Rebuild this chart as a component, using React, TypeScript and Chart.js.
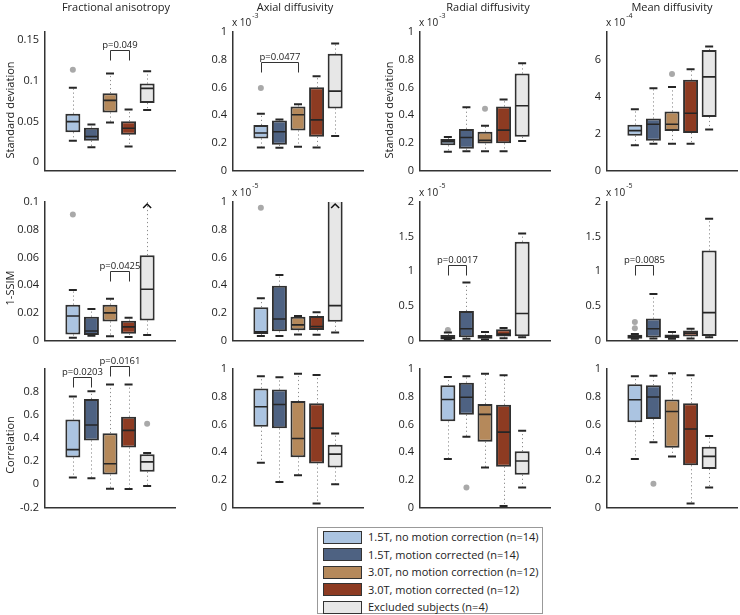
import React, { useEffect, useRef } from 'react';
import { Chart, registerables } from 'chart.js';
Chart.register(...registerables);

const FONT = '"Open Sans", "DejaVu Sans", sans-serif';

// ---------- categories / series ----------
const GROUPS = [
  '1.5T, no motion correction (n=14)',
  '1.5T, motion corrected (n=14)',
  '3.0T, no motion correction (n=12)',
  '3.0T, motion corrected (n=12)',
  'Excluded subjects (n=4)',
];
const COLORS = ['#abc4e1', '#4e6282', '#b5895b', '#8d3b22', '#e7e7e7'];
const METRICS = ['Fractional anisotropy', 'Axial diffusivity', 'Radial diffusivity', 'Mean diffusivity'];
const MEASURES = ['Standard deviation', '1-SSIM', 'Correlation'];

// each box: [lower whisker, q1, median, q3, upper whisker]
// ---- Row 1: standard deviation ----
const STD_FA = [
  [0.0265, 0.037, 0.0499, 0.0596, 0.0915],
  [0.0183, 0.0265, 0.0316, 0.0425, 0.0464],
  [0.0487, 0.0612, 0.076, 0.0849, 0.109],
  [0.0195, 0.0339, 0.0417, 0.0503, 0.0647],
  [0.0643, 0.0728, 0.0908, 0.0966, 0.1118],
];
const STD_FA_OUT = [[0.1137], [], [], [], []];
const STD_AD = [
  [0.166, 0.231, 0.27, 0.328, 0.409],
  [0.164, 0.185, 0.279, 0.36, 0.367],
  [0.171, 0.289, 0.402, 0.462, 0.478],
  [0.166, 0.2425, 0.365, 0.6, 0.681],
  [0.249, 0.448, 0.573, 0.843, 0.917],
];
const STD_AD_OUT = [[0.596], [], [], [], []];
const STD_RD = [
  [0.134, 0.182, 0.208, 0.226, 0.242],
  [0.139, 0.157, 0.238, 0.3, 0.457],
  [0.139, 0.194, 0.217, 0.279, 0.323],
  [0.139, 0.196, 0.291, 0.462, 0.513],
  [0.212, 0.2425, 0.467, 0.7, 0.774],
];
const STD_RD_OUT = [[], [], [0.446], [], []];
const STD_MD = [
  [1.36, 1.88, 2.155, 2.48, 3.31],
  [1.45, 1.6, 2.5, 2.81, 4.45],
  [1.45, 2.14, 2.5, 3.19, 4.52],
  [1.45, 2.03, 3.1, 4.91, 5.48],
  [2.21, 2.9, 5.07, 6.52, 6.72],
];
const STD_MD_OUT = [[], [], [5.22], [], []];

// ---- Row 2: 1-SSIM ----
const SSIM_FA = [
  [0.002, 0.0043, 0.0176, 0.0258, 0.0365],
  [0.0034, 0.0039, 0.0068, 0.0171, 0.0226],
  [0.003, 0.0137, 0.0199, 0.0258, 0.0301],
  [0.0025, 0.0048, 0.0098, 0.0142, 0.0164],
  [0.0039, 0.0144, 0.037, 0.0616, 0.125],
];
const SSIM_FA_OUT = [[0.0909], [], [], [], []];
const SSIM_AD = [
  [0.032, 0.046, 0.062, 0.24, 0.304],
  [0.032, 0.066, 0.155, 0.395, 0.473],
  [0.043, 0.073, 0.112, 0.171, 0.176],
  [0.041, 0.075, 0.1, 0.176, 0.203],
  [0.057, 0.135, 0.251, 1.3, 1.9],
];
const SSIM_AD_OUT = [[0.959], [], [], [], []];
const SSIM_RD = [
  [0.014, 0.014, 0.037, 0.078, 0.114],
  [0.023, 0.046, 0.169, 0.425, 0.836],
  [0.014, 0.023, 0.046, 0.078, 0.123],
  [0.032, 0.055, 0.09, 0.16, 0.178],
  [0.046, 0.059, 0.388, 1.425, 1.543],
];
const SSIM_RD_OUT = [[0.15], [], [], [], []];
const SSIM_MD = [
  [0.023, 0.023, 0.055, 0.082, 0.091],
  [0.027, 0.041, 0.169, 0.315, 0.671],
  [0.023, 0.032, 0.059, 0.087, 0.123],
  [0.027, 0.055, 0.105, 0.142, 0.169],
  [0.046, 0.064, 0.402, 1.3, 1.758],
];
const SSIM_MD_OUT = [[0.174, 0.265], [], [], [], []];

// ---- Row 3: correlation ----
const COR_FA = [
  [0.06, 0.233, 0.301, 0.562, 0.762],
  [0.052, 0.381, 0.515, 0.74, 0.808],
  [-0.038, 0.085, 0.178, 0.444, 0.866],
  [-0.041, 0.32, 0.468, 0.586, 0.866],
  [-0.014, 0.11, 0.195, 0.26, 0.271],
];
const COR_FA_OUT = [[], [], [], [], [0.526]];
const COR_AD = [
  [0.323, 0.583, 0.727, 0.86, 0.947],
  [0.183, 0.571, 0.743, 0.851, 0.94],
  [0.232, 0.362, 0.498, 0.768, 0.966],
  [0.028, 0.317, 0.573, 0.752, 0.956],
  [0.167, 0.289, 0.385, 0.452, 0.534],
];
const COR_AD_OUT = [[], [], [], [], []];
const COR_RD = [
  [0.349, 0.622, 0.78, 0.883, 0.943],
  [0.511, 0.67, 0.796, 0.901, 0.947],
  [0.289, 0.475, 0.672, 0.748, 0.966],
  [0.011, 0.294, 0.544, 0.741, 0.954],
  [0.144, 0.236, 0.335, 0.406, 0.553],
];
const COR_RD_OUT = [[], [0.144], [], [], []];
const COR_MD = [
  [0.349, 0.615, 0.778, 0.89, 0.947],
  [0.47, 0.638, 0.798, 0.883, 0.952],
  [0.367, 0.431, 0.693, 0.78, 0.97],
  [0.028, 0.305, 0.567, 0.752, 0.954],
  [0.144, 0.278, 0.369, 0.438, 0.516],
];
const COR_MD_OUT = [[], [0.17], [], [], []];

// ---------- tick labels / axis ranges ----------
const TICKS_STD_FA = [0, 0.05, 0.1, 0.15];
const TICKS_UNIT = [0, 0.2, 0.4, 0.6, 0.8, 1];
const TICKS_STD_MD = [0, 2, 4, 6];
const TICKS_SSIM_FA = [0, 0.02, 0.04, 0.06, 0.08, 0.1];
const TICKS_SSIM_2 = [0, 0.5, 1, 1.5, 2];
const TICKS_COR_FA = [-0.2, 0, 0.2, 0.4, 0.6, 0.8];

// ---------- significance brackets: [fromGroup, toGroup, value, label] ----------
const P_STD_FA: [number, number, number, string][] = [[3, 4, 0.1383, 'p=0.049']];
const P_STD_AD: [number, number, number, string][] = [[1, 3, 0.78, 'p=0.0477']];
const P_SSIM_FA: [number, number, number, string][] = [[3, 4, 0.0503, 'p=0.0425']];
const P_SSIM_RD: [number, number, number, string][] = [[1, 2, 1.096, 'p=0.0017']];
const P_SSIM_MD: [number, number, number, string][] = [[1, 2, 1.096, 'p=0.0085']];
const P_COR_FA: [number, number, number, string][] = [
  [1, 2, 0.93, 'p=0.0203'],
  [3, 4, 1.03, 'p=0.0161'],
];

// ---------- layout ----------
const AXIS_X = [45, 233, 420, 607];
const AXIS_W = 130;
const ROW_TOP = [32, 202, 369];
const ROW_H = 145;
const PAD_TOP = [32, 22, 16];
const YW = [45, 40, 41, 40];
const TITLE_X = [116, 295, 488, 672];
const YTITLE_X = [11, 0, 390, 0];
const YTITLE_Y = [110, 288, 445];

type Panel = {
  r: number; c: number;
  boxes: number[][]; outliers: number[][];
  min: number; max: number; ticks: number[];
  mult?: string; yTitle?: string; title?: string;
  brackets: [number, number, number, string][];
};

const PANELS: Panel[] = [
  { r: 0, c: 0, boxes: STD_FA, outliers: STD_FA_OUT, min: -0.01, max: 0.16, ticks: TICKS_STD_FA, yTitle: MEASURES[0], title: METRICS[0], brackets: P_STD_FA },
  { r: 0, c: 1, boxes: STD_AD, outliers: STD_AD_OUT, min: 0, max: 1, ticks: TICKS_UNIT, mult: '-3', title: METRICS[1], brackets: P_STD_AD },
  { r: 0, c: 2, boxes: STD_RD, outliers: STD_RD_OUT, min: 0, max: 1, ticks: TICKS_UNIT, mult: '-3', yTitle: MEASURES[0], title: METRICS[2], brackets: [] },
  { r: 0, c: 3, boxes: STD_MD, outliers: STD_MD_OUT, min: 0, max: 7.5, ticks: TICKS_STD_MD, mult: '-4', title: METRICS[3], brackets: [] },
  { r: 1, c: 0, boxes: SSIM_FA, outliers: SSIM_FA_OUT, min: 0, max: 0.1, ticks: TICKS_SSIM_FA, yTitle: MEASURES[1], brackets: P_SSIM_FA },
  { r: 1, c: 1, boxes: SSIM_AD, outliers: SSIM_AD_OUT, min: 0, max: 1, ticks: TICKS_UNIT, mult: '-5', brackets: [] },
  { r: 1, c: 2, boxes: SSIM_RD, outliers: SSIM_RD_OUT, min: 0, max: 2, ticks: TICKS_SSIM_2, mult: '-5', brackets: P_SSIM_RD },
  { r: 1, c: 3, boxes: SSIM_MD, outliers: SSIM_MD_OUT, min: 0, max: 2, ticks: TICKS_SSIM_2, mult: '-5', brackets: P_SSIM_MD },
  { r: 2, c: 0, boxes: COR_FA, outliers: COR_FA_OUT, min: -0.2, max: 1, ticks: TICKS_COR_FA, yTitle: MEASURES[2], brackets: P_COR_FA },
  { r: 2, c: 1, boxes: COR_AD, outliers: COR_AD_OUT, min: 0, max: 1, ticks: TICKS_UNIT, brackets: [] },
  { r: 2, c: 2, boxes: COR_RD, outliers: COR_RD_OUT, min: 0, max: 1, ticks: TICKS_UNIT, brackets: [] },
  { r: 2, c: 3, boxes: COR_MD, outliers: COR_MD_OUT, min: 0, max: 1, ticks: TICKS_UNIT, brackets: [] },
];

const BOX_W = 15;
const INK = '#262626';

function makeDecor(p: Panel, canvasLeft: number, canvasTop: number) {
  return {
    id: 'boxDecor' + p.r + p.c,
    beforeDatasetsDraw(chart: any) {
      const { ctx, chartArea: a, scales } = chart;
      const x = scales.x, y = scales.y;
      ctx.save();
      ctx.beginPath();
      ctx.rect(a.left, a.top, a.right - a.left, a.bottom - a.top);
      ctx.clip();
      ctx.strokeStyle = '#8c8c8c';
      ctx.lineWidth = 1;
      ctx.setLineDash([1.2, 2.8]);
      p.boxes.forEach((b, i) => {
        const px = Math.round(x.getPixelForValue(i + 1)) + 0.5;
        ctx.beginPath();
        ctx.moveTo(px, y.getPixelForValue(b[3]));
        ctx.lineTo(px, y.getPixelForValue(b[4]));
        ctx.moveTo(px, y.getPixelForValue(b[1]));
        ctx.lineTo(px, y.getPixelForValue(b[0]));
        ctx.stroke();
      });
      ctx.restore();
    },
    afterDatasetsDraw(chart: any) {
      const { ctx, chartArea: a, scales } = chart;
      const x = scales.x, y = scales.y;
      ctx.save();
      ctx.beginPath();
      ctx.rect(a.left, a.top - 1, a.right - a.left, a.bottom - a.top + 2);
      ctx.clip();
      p.boxes.forEach((b, i) => {
        const cx = x.getPixelForValue(i + 1);
        // median
        ctx.strokeStyle = INK;
        ctx.lineWidth = 1.6;
        ctx.beginPath();
        const my = y.getPixelForValue(b[2]);
        ctx.moveTo(cx - BOX_W / 2 + 1, my);
        ctx.lineTo(cx + BOX_W / 2 - 1, my);
        ctx.stroke();
        // caps
        ctx.lineWidth = 2;
        [b[0], b[4]].forEach((v) => {
          if (v <= p.max && v >= p.min) {
            const vy = y.getPixelForValue(v);
            ctx.beginPath();
            ctx.moveTo(cx - 4, vy);
            ctx.lineTo(cx + 4, vy);
            ctx.stroke();
          }
        });
        // out of range marker
        if (b[4] > p.max) {
          ctx.lineWidth = 1.5;
          ctx.strokeStyle = '#111';
          ctx.beginPath();
          ctx.moveTo(cx - 4, a.top + 6);
          ctx.lineTo(cx, a.top + 2);
          ctx.lineTo(cx + 4, a.top + 6);
          ctx.stroke();
        }
      });
      ctx.restore();
    },
    afterDraw(chart: any) {
      const { ctx, chartArea: a, scales } = chart;
      const x = scales.x, y = scales.y;
      ctx.save();
      // brackets
      p.brackets.forEach(([g1, g2, v, label]) => {
        const x1 = Math.round(x.getPixelForValue(g1)) + 0.5;
        const x2 = Math.round(x.getPixelForValue(g2)) + 0.5;
        const yy = Math.round(y.getPixelForValue(v)) + 0.5;
        ctx.strokeStyle = '#333';
        ctx.lineWidth = 1;
        ctx.beginPath();
        ctx.moveTo(x1, yy + 10);
        ctx.lineTo(x1, yy);
        ctx.lineTo(x2, yy);
        ctx.lineTo(x2, yy + 10);
        ctx.stroke();
        ctx.fillStyle = '#222';
        ctx.font = '9.5px ' + FONT;
        ctx.textAlign = 'center';
        ctx.textBaseline = 'alphabetic';
        ctx.fillText(label, (x1 + x2) / 2, yy - 3);
      });
      // multiplier
      if (p.mult) {
        ctx.fillStyle = '#222';
        ctx.textAlign = 'left';
        ctx.textBaseline = 'alphabetic';
        ctx.font = '10px ' + FONT;
        const base = 'x 10';
        ctx.fillText(base, a.left - 1, a.top - 6);
        const w = ctx.measureText(base).width;
        ctx.font = '7px ' + FONT;
        ctx.fillText(p.mult, a.left + w, a.top - 14);
      }
      // column title
      if (p.title) {
        ctx.fillStyle = '#222';
        ctx.font = '11px ' + FONT;
        ctx.textAlign = 'center';
        ctx.textBaseline = 'alphabetic';
        ctx.fillText(p.title, TITLE_X[p.c] - canvasLeft, 11 - canvasTop);
      }
      // y title
      if (p.yTitle) {
        ctx.fillStyle = '#222';
        ctx.font = '11px ' + FONT;
        ctx.textAlign = 'center';
        ctx.textBaseline = 'middle';
        ctx.translate(YTITLE_X[p.c] - canvasLeft, YTITLE_Y[p.r] - canvasTop);
        ctx.rotate(-Math.PI / 2);
        ctx.fillText(p.yTitle, 0, 0);
      }
      ctx.restore();
    },
  };
}

function BoxPanel({ p }: { p: Panel }) {
  const ref = useRef<HTMLCanvasElement>(null);
  const padTop = PAD_TOP[p.r];
  const yw = YW[p.c];
  const left = AXIS_X[p.c] - yw;
  const top = ROW_TOP[p.r] - padTop;
  const width = yw + AXIS_W + 6;
  const height = padTop + ROW_H + 6;

  useEffect(() => {
    const outlierPts: { x: number; y: number }[] = [];
    p.outliers.forEach((arr, i) => arr.forEach((v) => outlierPts.push({ x: i + 1, y: v })));
    const chart = new Chart(ref.current!, {
      type: 'bar',
      data: {
        datasets: [
          {
            type: 'scatter',
            data: outlierPts,
            pointRadius: 3,
            pointBackgroundColor: '#a9a9a9',
            pointBorderWidth: 0,
            pointBorderColor: '#a9a9a9',
          } as any,
          {
            type: 'bar',
            data: p.boxes.map((b, i) => ({ x: i + 1, y: [b[1], b[3]] })),
            backgroundColor: COLORS,
            borderColor: '#303030',
            borderWidth: 2,
            borderSkipped: false,
            inflateAmount: 0,
            barThickness: BOX_W,
            clip: 0,
          } as any,
        ],
      },
      options: {
        animation: false,
        responsive: false,
        maintainAspectRatio: false,
        events: [],
        layout: { padding: { top: padTop, left: 0, right: 6, bottom: 6 } },
        plugins: { legend: { display: false }, tooltip: { enabled: false }, title: { display: false } },
        scales: {
          x: {
            type: 'linear',
            min: -0.5,
            max: 6.5,
            offset: false,
            grid: { display: false, drawTicks: false },
            ticks: { display: false },
            border: { display: true, color: '#333', width: 1.5 },
            afterFit: (s: any) => { s.height = 0; },
          },
          y: {
            type: 'linear',
            min: p.min,
            max: p.max,
            grid: { display: false, drawTicks: false },
            border: { display: true, color: '#333', width: 1.5 },
            ticks: {
              color: '#222',
              padding: 6,
              font: { family: FONT, size: 11 },
              callback: (v: any) => String(Number(Number(v).toFixed(4))),
            },
            afterBuildTicks: (s: any) => { s.ticks = p.ticks.map((v) => ({ value: v })); },
            afterFit: (s: any) => { s.width = yw; },
          },
        } as any,
      },
      plugins: [makeDecor(p, left, top)],
    } as any);
    return () => chart.destroy();
  }, []);

  return (
    <canvas
      ref={ref}
      width={width}
      height={height}
      style={{ position: 'absolute', left, top, width, height }}
    />
  );
}

function Legend() {
  return (
    <div
      style={{
        position: 'absolute', left: 317, top: 527, width: 226, height: 87,
        border: '1px solid #999', background: '#fff', boxSizing: 'border-box',
        fontFamily: FONT, fontSize: 11, color: '#222',
      }}
    >
      {GROUPS.map((g, i) => (
        <div key={g} style={{ position: 'absolute', left: 5, top: 2 + i * 17.5, height: 14, display: 'flex', alignItems: 'center' }}>
          <div style={{ width: 39, height: 13, background: COLORS[i], border: '1.5px solid #333', boxSizing: 'border-box' }} />
          <span style={{ marginLeft: 6, whiteSpace: 'nowrap', lineHeight: '14px' }}>{g}</span>
        </div>
      ))}
    </div>
  );
}

export default function App() {
  return (
    <div style={{ position: 'absolute', left: 0, top: 0, width: 740, height: 615, background: '#fff', overflow: 'hidden' }}>
      {PANELS.map((p) => (
        <BoxPanel key={p.r + '-' + p.c} p={p} />
      ))}
      <Legend />
    </div>
  );
}
